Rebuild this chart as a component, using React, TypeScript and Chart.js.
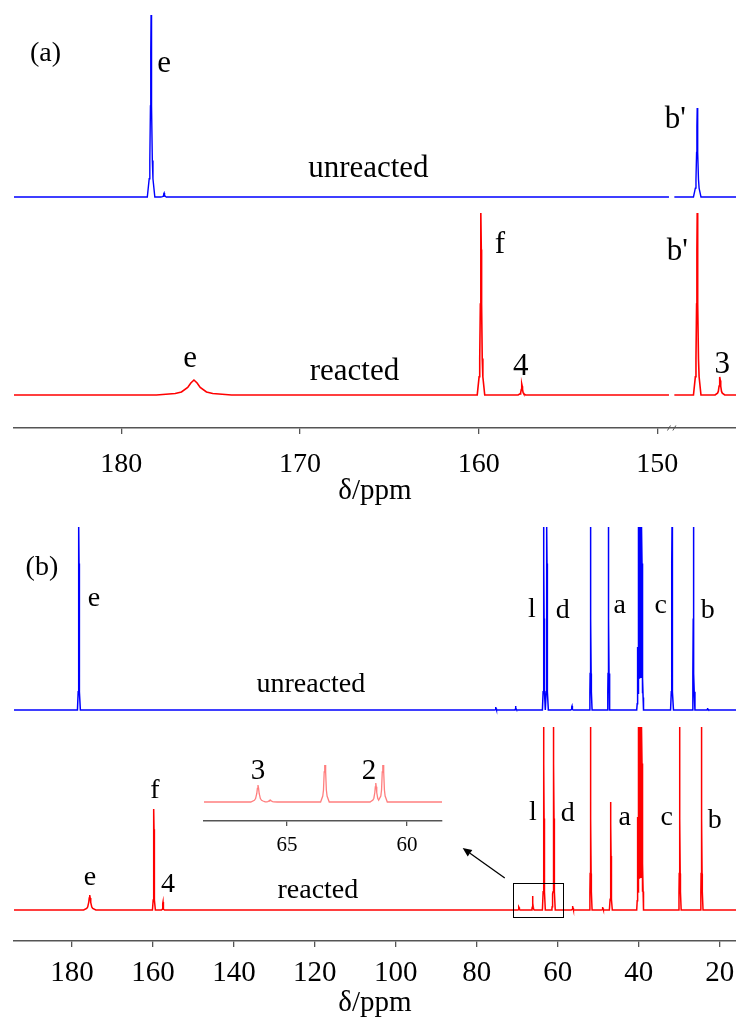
import React, { useEffect, useRef } from 'react';
import { Chart, registerables } from 'chart.js';

Chart.register(...registerables);

const SERIF = '"Liberation Serif", "Times New Roman", serif';
const BLUE = '#0000ff';
const RED = '#ff0000';
const INSET_RED = 'rgba(255,40,40,0.6)';

// Line-shape template (offset in half-widths -> relative height)
const SHAPE_U = [0, 0.5, 1, 2, 3, 6];
const SHAPE_LEVEL = [1, 0.8, 0.5, 0.2, 0.1, 0];

// ---------- Panel (a) ----------
const A_RANGE = [145.6, 186.0];
const A_TICKS = [150, 160, 170, 180];
const A_BREAK = [149.35, 149.05];
const A_UNREACTED_OFFSET = 198;
const A_UNREACTED_PPM = [178.33, 177.6, 147.77];
const A_UNREACTED_HEIGHT = [182, 4, 89];
const A_UNREACTED_WIDTH = [0.035, 0.03, 0.035];
const A_REACTED_PPM = [175.93, 159.87, 157.58, 147.77, 146.5];
const A_REACTED_HEIGHT = [15, 182, 11, 182, 18];
const A_REACTED_WIDTH = [0.35, 0.035, 0.035, 0.035, 0.045];
const A_LABEL_TEXT = ['e', 'unreacted', "b'", 'f', "b'", 'e', 'reacted', '4', '3'];
const A_LABEL_PPM = [177.6, 166.17, 148.99, 158.81, 148.88, 176.15, 166.95, 157.64, 146.37];
const A_LABEL_Y = [323, 218, 267, 142, 135, 28, 15, 20, 22];
const A_TAG_TEXT = '(a)';
const A_TAG_PPM = 184.24;
const A_TAG_Y = 334;

// ---------- Panel (b) ----------
const B_RANGE = [16.0, 194.3];
const B_TICKS = [20, 40, 60, 80, 100, 120, 140, 160, 180];
const B_UNREACTED_OFFSET = 200;
const B_UNREACTED_PPM = [178.27, 75.3, 70.4, 63.45, 62.7, 56.5, 51.9, 47.48,
  40.28, 40.07, 39.86, 39.65, 39.44, 39.23, 39.02, 31.8, 26.5, 23.0];
const B_UNREACTED_HEIGHT = [183, 3, 4, 183, 183, 4, 183, 183,
  63, 183, 183, 183, 183, 183, 63, 183, 183, 2];
const B_UNREACTED_WIDTH = [0.06, 0.06, 0.06, 0.06, 0.06, 0.06, 0.06, 0.06,
  0.04, 0.04, 0.04, 0.04, 0.04, 0.04, 0.04, 0.06, 0.06, 0.06];
const B_REACTED_PPM = [175.6, 159.75, 157.5, 69.6, 66.2, 63.45, 61.3, 61.0, 56.3, 51.9, 48.9, 46.91,
  40.28, 40.07, 39.86, 39.65, 39.44, 39.23, 39.02, 29.9, 24.5];
const B_REACTED_HEIGHT = [15, 101, 8, 3, 14, 183, 16, 183, 4, 183, 3, 108,
  93, 183, 183, 183, 183, 183, 93, 183, 183];
const B_REACTED_WIDTH = [0.25, 0.06, 0.06, 0.06, 0.06, 0.06, 0.05, 0.06, 0.06, 0.06, 0.06, 0.06,
  0.04, 0.04, 0.04, 0.04, 0.04, 0.04, 0.04, 0.06, 0.06];
const B_LABEL_TEXT = ['e', 'unreacted', 'l', 'd', 'a', 'c', 'b', 'l', 'd', 'a', 'c', 'b', 'f', 'e', '4', 'reacted'];
const B_LABEL_PPM = [174.57, 120.99, 66.42, 58.77, 44.69, 34.57, 22.96, 66.17, 57.53, 43.46, 33.09, 21.23, 159.51, 175.56, 156.3, 119.26];
const B_LABEL_Y = [304, 218, 293, 292, 297, 297, 292, 90, 89, 85, 85, 82, 112, 25, 18, 12];
const B_TAG_TEXT = '(b)';
const B_TAG_PPM = 187.41;
const B_TAG_Y = 335;
const B_BOX_PPM = [71.1, 58.8];
const B_BOX_Y = [27, -7];
const B_ARROW_PPM = [73.1, 83.5];
const B_ARROW_Y = [32, 62];

// ---------- Inset ----------
const INSET_RANGE = [58.54, 68.46];
const INSET_TICKS = [60, 65];
const INSET_PPM = [66.21, 65.7, 63.42, 61.3, 61.0];
const INSET_HEIGHT = [17, 2, 60, 19, 60];
const INSET_WIDTH = [0.05, 0.05, 0.03, 0.04, 0.03];
const INSET_LABEL_TEXT = ['3', '2'];
const INSET_LABEL_PPM = [66.21, 61.58];
const INSET_LABEL_Y = [23, 23];

function shapeAt(u: number): number {
  const a = Math.abs(u);
  for (let k = 0; k < SHAPE_U.length - 1; k++) {
    if (a <= SHAPE_U[k + 1]) {
      const t = (a - SHAPE_U[k]) / (SHAPE_U[k + 1] - SHAPE_U[k]);
      return SHAPE_LEVEL[k] + t * (SHAPE_LEVEL[k + 1] - SHAPE_LEVEL[k]);
    }
  }
  return 0;
}

function spectrum(ppm: number[], height: number[], width: number[], offset: number, range: number[], gap?: number[]) {
  const xs: number[] = [range[0], range[1]];
  ppm.forEach((p, i) => SHAPE_U.forEach((u) => { xs.push(p + u * width[i]); xs.push(p - u * width[i]); }));
  if (gap) xs.push(gap[0], gap[1]);
  const uniq = Array.from(new Set(xs.filter((x) => x >= range[0] && x <= range[1]))).sort((a, b) => b - a);
  const pts: { x: number; y: number | null }[] = uniq.map((x) => {
    let y = 0;
    ppm.forEach((p, i) => { y = Math.max(y, height[i] * shapeAt((x - p) / width[i])); });
    return { x, y: y + offset };
  });
  if (gap) {
    const mid = (gap[0] + gap[1]) / 2;
    const idx = pts.findIndex((pt) => pt.x < mid);
    pts.splice(idx, 0, { x: mid, y: null });
  }
  return pts;
}

type Ann = {
  texts: string[]; ppm: number[]; ys: number[]; size: number;
  tag?: { text: string; ppm: number; y: number; size: number };
  box?: boolean; brk?: boolean;
};

function annotationPlugin(a: Ann) {
  return {
    id: 'annotations',
    afterDraw(chart: any) {
      const { ctx, scales } = chart;
      const x = scales.x, y = scales.y;
      ctx.save();
      ctx.fillStyle = '#000';
      ctx.textAlign = 'center';
      ctx.textBaseline = 'alphabetic';
      ctx.font = `${a.size}px ${SERIF}`;
      a.texts.forEach((t, i) => ctx.fillText(t, x.getPixelForValue(a.ppm[i]), y.getPixelForValue(a.ys[i])));
      if (a.tag) {
        ctx.font = `${a.tag.size}px ${SERIF}`;
        ctx.fillText(a.tag.text, x.getPixelForValue(a.tag.ppm), y.getPixelForValue(a.tag.y));
      }
      if (a.box) {
        const x0 = x.getPixelForValue(B_BOX_PPM[0]), x1 = x.getPixelForValue(B_BOX_PPM[1]);
        const y0 = y.getPixelForValue(B_BOX_Y[0]), y1 = y.getPixelForValue(B_BOX_Y[1]);
        ctx.strokeStyle = '#000';
        ctx.lineWidth = 1;
        ctx.strokeRect(Math.round(x0) + 0.5, Math.round(y0) + 0.5, Math.round(x1 - x0), Math.round(y1 - y0));
        const tx = x.getPixelForValue(B_ARROW_PPM[0]), ty = y.getPixelForValue(B_ARROW_Y[0]);
        const hx = x.getPixelForValue(B_ARROW_PPM[1]), hy = y.getPixelForValue(B_ARROW_Y[1]);
        const ang = Math.atan2(hy - ty, hx - tx);
        const L = 9, W = 4;
        const bx = hx - L * Math.cos(ang), by = hy - L * Math.sin(ang);
        ctx.lineWidth = 1.3;
        ctx.beginPath();
        ctx.moveTo(tx, ty);
        ctx.lineTo(bx, by);
        ctx.stroke();
        ctx.beginPath();
        ctx.moveTo(hx, hy);
        ctx.lineTo(bx + W * Math.sin(ang), by - W * Math.cos(ang));
        ctx.lineTo(bx - W * Math.sin(ang), by + W * Math.cos(ang));
        ctx.closePath();
        ctx.fill();
      }
      if (a.brk) {
        const ay = chart.chartArea.bottom;
        ctx.strokeStyle = '#555';
        ctx.lineWidth = 1;
        A_BREAK.forEach((v) => {
          const px = x.getPixelForValue(v);
          ctx.beginPath();
          ctx.moveTo(px - 1.5, ay + 2.5);
          ctx.lineTo(px + 1.5, ay - 2.5);
          ctx.stroke();
        });
      }
      ctx.restore();
    },
  };
}

function axisX(range: number[], ticks: number[], tickSize: number, tickPad: number, tickLen: number, title?: { pt: number; pb: number }) {
  return {
    type: 'linear',
    reverse: true,
    min: range[0],
    max: range[1],
    afterBuildTicks: (s: any) => { s.ticks = ticks.map((v) => ({ value: v })); },
    ticks: { autoSkip: false, maxRotation: 0, padding: tickPad, color: '#000', font: { family: SERIF, size: tickSize } },
    grid: { drawOnChartArea: false, drawTicks: true, tickLength: tickLen, color: '#555', lineWidth: 1.3 },
    border: { display: true, color: '#555', width: 1.5 },
    title: title
      ? { display: true, text: 'δ/ppm', color: '#000', font: { family: SERIF, size: 29, lineHeight: 1 }, padding: { top: title.pt, bottom: title.pb } }
      : { display: false },
  };
}

function baseOptions(padding: any, xScale: any, ymin: number, ymax: number) {
  return {
    animation: false,
    responsive: false,
    maintainAspectRatio: false,
    events: [],
    layout: { padding },
    plugins: { legend: { display: false }, tooltip: { enabled: false }, title: { display: false } },
    elements: { point: { radius: 0 }, line: { tension: 0 } },
    scales: { x: xScale, y: { display: false, min: ymin, max: ymax } },
  };
}

export default function App() {
  const aRef = useRef<HTMLCanvasElement>(null);
  const bRef = useRef<HTMLCanvasElement>(null);
  const cRef = useRef<HTMLCanvasElement>(null);

  useEffect(() => {
    const chartA = new Chart(aRef.current as HTMLCanvasElement, {
      type: 'line',
      data: {
        datasets: [
          { label: 'reacted', data: spectrum(A_REACTED_PPM, A_REACTED_HEIGHT, A_REACTED_WIDTH, 0, A_RANGE, A_BREAK), borderColor: RED, borderWidth: 1.6, pointRadius: 0, spanGaps: false, fill: false },
          { label: 'unreacted', data: spectrum(A_UNREACTED_PPM, A_UNREACTED_HEIGHT, A_UNREACTED_WIDTH, A_UNREACTED_OFFSET, A_RANGE, A_BREAK), borderColor: BLUE, borderWidth: 1.4, pointRadius: 0, spanGaps: false, fill: false },
        ],
      },
      options: baseOptions({ left: 14, right: 0, top: 10, bottom: 0 }, axisX(A_RANGE, A_TICKS, 28, 14.2, 6, { pt: -19, pb: 3 }), -33, 385) as any,
      plugins: [annotationPlugin({ texts: A_LABEL_TEXT, ppm: A_LABEL_PPM, ys: A_LABEL_Y, size: 31, tag: { text: A_TAG_TEXT, ppm: A_TAG_PPM, y: A_TAG_Y, size: 28 }, brk: true })],
    } as any);

    const chartB = new Chart(bRef.current as HTMLCanvasElement, {
      type: 'line',
      data: {
        datasets: [
          { label: 'reacted', data: spectrum(B_REACTED_PPM, B_REACTED_HEIGHT, B_REACTED_WIDTH, 0, B_RANGE), borderColor: RED, borderWidth: 1.5, pointRadius: 0, fill: false },
          { label: 'unreacted', data: spectrum(B_UNREACTED_PPM, B_UNREACTED_HEIGHT, B_UNREACTED_WIDTH, B_UNREACTED_OFFSET, B_RANGE), borderColor: BLUE, borderWidth: 1.5, pointRadius: 0, fill: false },
        ],
      },
      options: baseOptions({ left: 14, right: 0, top: 6, bottom: 0 }, axisX(B_RANGE, B_TICKS, 29, 8.6, 6, { pt: -10, pb: 0 }), -31, 395) as any,
      plugins: [annotationPlugin({ texts: B_LABEL_TEXT, ppm: B_LABEL_PPM, ys: B_LABEL_Y, size: 28, tag: { text: B_TAG_TEXT, ppm: B_TAG_PPM, y: B_TAG_Y, size: 28 }, box: true })],
    } as any);

    const chartC = new Chart(cRef.current as HTMLCanvasElement, {
      type: 'line',
      data: {
        datasets: [
          { label: 'reacted (inset)', data: spectrum(INSET_PPM, INSET_HEIGHT, INSET_WIDTH, 0, INSET_RANGE), borderColor: INSET_RED, borderWidth: 1.3, pointRadius: 0, fill: false },
        ],
      },
      options: baseOptions({ left: 14, right: 8, top: 25, bottom: 0 }, axisX(INSET_RANGE, INSET_TICKS, 21, 6.4, 5), -19, 37) as any,
      plugins: [annotationPlugin({ texts: INSET_LABEL_TEXT, ppm: INSET_LABEL_PPM, ys: INSET_LABEL_Y, size: 29 })],
    } as any);

    return () => { chartA.destroy(); chartB.destroy(); chartC.destroy(); };
  }, []);

  return (
    <div style={{ position: 'fixed', left: 0, top: 0, width: 736, height: 1018, overflow: 'hidden', background: '#fff' }}>
      <canvas ref={aRef} width={736} height={509} style={{ position: 'absolute', left: 0, top: 0 }} />
      <canvas ref={bRef} width={736} height={509} style={{ position: 'absolute', left: 0, top: 509 }} />
      <canvas ref={cRef} width={260} height={124} style={{ position: 'absolute', left: 190, top: 740 }} />
    </div>
  );
}
